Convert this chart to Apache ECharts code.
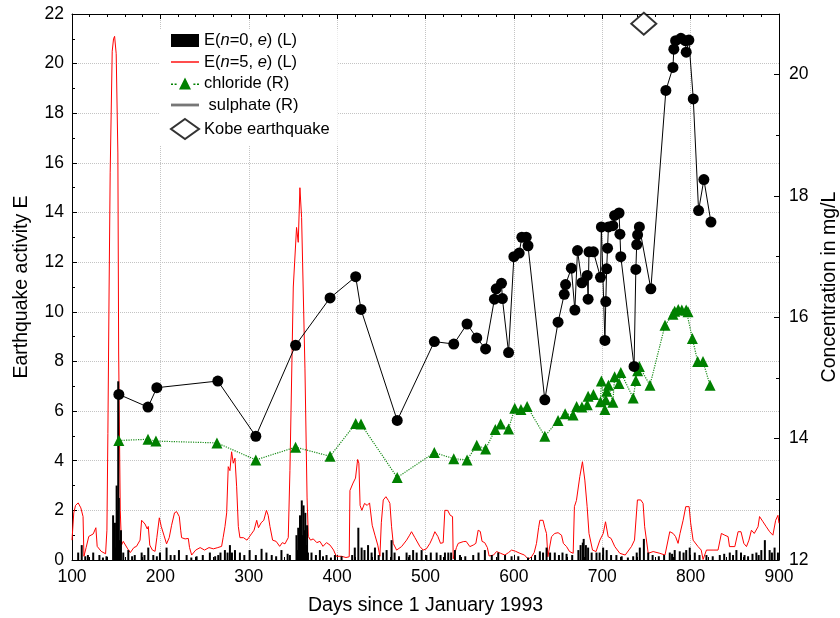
<!DOCTYPE html>
<html>
<head>
<meta charset="utf-8">
<script src="https://cdn.jsdelivr.net/npm/echarts@6/dist/echarts.min.js"></script>
<style>
  html, body { margin: 0; padding: 0; background: #fff; }
  #chart { width: 840px; height: 618px; }
</style>
</head>
<body>
<div id="chart"></div>
<script>
// sulphate (R), black circles
const sulphateDays = [153, 186, 196, 265, 308, 353, 392, 421, 427, 468, 510, 532, 547, 558, 568,
  578, 580, 586, 587, 594, 600, 606, 609, 614, 616, 635, 650, 657, 658.5, 665, 669, 672, 677,
  683, 684, 685, 690, 698, 699, 703, 704, 705, 706, 707, 712, 714, 719, 720, 721, 736, 738, 739,
  740, 742, 755, 772, 780, 781, 783, 789, 794, 795, 798, 803, 809, 815, 823];
const sulphateConc = [14.73, 14.52, 14.84, 14.95, 14.04, 15.54, 16.32, 16.67, 16.13, 14.30, 15.60,
  15.56, 15.89, 15.66, 15.48, 16.30, 16.47, 16.56, 16.31, 15.42, 17.00, 17.06, 17.32, 17.32, 17.18,
  14.64, 15.92, 16.38, 16.54, 16.81, 16.12, 17.10, 16.57, 16.69, 16.30, 17.08, 17.08, 16.66, 17.49,
  15.62, 16.26, 16.80, 17.14, 17.49, 17.51, 17.68, 17.72, 17.37, 17.00, 15.19, 16.79, 17.20, 17.36,
  17.49, 16.47, 19.74, 20.12, 20.42, 20.56, 20.60, 20.56, 20.37, 20.57, 19.60, 17.76, 18.27, 17.57];

// chloride (R), green triangles
const chlorideDays = [153, 186, 195, 264, 308, 353, 392, 421, 427, 468, 510, 532, 547, 558, 568,
  579, 585, 594, 601, 608, 615, 635, 650, 658, 667, 671, 677, 683, 684, 690, 698, 699, 703, 704,
  705, 707, 712, 714, 719, 721, 735, 738, 740, 742, 754, 771, 780, 782, 786, 790, 795, 797, 802,
  808, 814, 822];
const chlorideConc = [13.97, 13.99, 13.96, 13.93, 13.65, 13.86, 13.71, 14.25, 14.24, 13.36, 13.77,
  13.67, 13.65, 13.89, 13.83, 14.15, 14.24, 14.16, 14.50, 14.48, 14.53, 14.04, 14.30, 14.41, 14.39,
  14.53, 14.52, 14.56, 14.70, 14.73, 14.61, 14.95, 14.48, 14.64, 14.78, 14.88, 14.60, 15.02, 14.91,
  15.09, 14.67, 14.96, 15.12, 15.19, 14.88, 15.87, 16.05, 16.10, 16.13, 16.12, 16.12, 16.09, 15.65,
  15.27, 15.27, 14.88];

// E(n=5, e) (L), red line: [day, E]
const e5Points = [[100,0.8],[102,1.9],[104,2.2],[107,2.3],[110,2.1],[112.5,1.75],[113.5,0.15],
  [116,0.5],[119,0.95],[121,1.0],[124,1.05],[127,1.3],[128.5,0.55],[133,0.35],[138,0.25],
  [139.5,1.2],[140.6,5.1],[142,11],[143.2,15.6],[145.5,20.5],[147,21.0],[148.2,21.1],[150,20.4],
  [151.9,16.4],[152.8,8.3],[154.6,2.0],[156,0.6],[158,0.75],[160,0.8],[163,0.45],[166,0.3],
  [170,0.5],[173,0.55],[177,0.8],[178.8,1.6],[182.6,1.45],[185.2,1.25],[186.3,1.35],[188,0.6],
  [191,0.4],[194,0.35],[196,0.9],[198.8,1.7],[201,1.35],[204,1.0],[207,0.65],[210,0.9],
  [212.7,1.4],[216,1.9],[218.4,1.95],[221.4,1.75],[223,1.2],[224,0.9],[228,0.85],[231.6,0.87],
  [233,0.5],[235.4,0.2],[240,0.4],[245,0.5],[250,0.4],[255,0.5],[260,0.45],[265,0.5],
  [269.3,0.55],[271,0.9],[273.1,1.35],[275,1.9],[276.8,3.76],[278.7,3.6],[280.6,4.36],
  [282.5,3.9],[284.4,4.1],[286.3,2.95],[288.2,1.35],[290,0.9],[294,0.9],[298,0.8],[300,0.9],
  [303,1.05],[306,1.2],[309,1.6],[311,1.3],[314,1.5],[317,1.6],[320,2.0],[322,1.8],[324,1.35],
  [327,0.8],[331,0.75],[335,0.55],[338,0.7],[341,0.65],[344.7,0.9],[346.6,3.6],[350.4,11.0],
  [354.1,13.4],[356,12.8],[357.9,15.0],[359.8,13.8],[360.9,13.8],[363.6,7.7],[366,2.5],
  [367.4,0.95],[370,0.8],[373,0.85],[377,0.7],[380.5,0.75],[384,0.55],[388,0.7],[392,0.6],
  [396,0.4],[399,0.15],[405,0.15],[410,0.1],[413.7,0.13],[414.5,2.8],[418,3.1],[420.8,3.3],
  [423.2,4.05],[424.6,3.9],[426,2.2],[428,2.0],[431,2.28],[434,2.2],[436.7,2.3],[439.7,1.4],
  [442.8,1.0],[446,0.6],[448.4,0.15],[450,1.5],[452.2,2.42],[455.2,2.55],[458,2.4],[459.7,2.28],
  [461.6,1.34],[463.5,0.67],[467.3,0.4],[472.9,0.54],[478.6,0.8],[482,1.0],[484.2,1.14],
  [488,0.9],[493.7,0.54],[497.4,0.4],[501,0.45],[505,0.67],[508,0.9],[510.6,1.14],[514,0.95],
  [517,0.67],[520,0.7],[521.9,2.0],[525,2.0],[528,1.8],[530.6,1.75],[531.4,0.05],[535,0.5],
  [537,0.67],[542.7,0.74],[546,0.75],[550.2,0.54],[554,0.6],[557,0.67],[559.6,1.2],[562,1.15],
  [564,0.75],[567,0.7],[570,0.5],[572,0.16],[577,0.2],[580.4,0.34],[585,0.27],[589.8,0.2],
  [594,0.3],[597.4,0.4],[602,0.35],[606.8,0.27],[612,0.2],[616.2,0.03],[620,0.13],[623,0.3],
  [625.6,0.67],[628,1.3],[629.4,1.6],[633,1.6],[635,1.3],[636.9,1.07],[638.5,0.13],[642.6,0.94],
  [646.3,1.07],[650,1.1],[653.9,1.0],[656,0.67],[659.6,0.54],[663,0.34],[667.1,0.27],
  [668.5,2.15],[670.8,2.4],[674.6,3.36],[677.6,3.96],[680.3,3.22],[682.9,2.15],[685,1.07],
  [689,0.4],[693,0.34],[697.3,0.8],[701.1,1.07],[703.7,1.54],[706.7,0.94],[710,0.87],
  [714.2,0.54],[719.9,0.27],[726,0.2],[733,0.54],[736.5,0.8],[739.8,2.42],[743.6,2.42],
  [746.2,2.28],[748,1.34],[752,0.27],[757.6,0.34],[765.2,0.27],[771,0.2],[776.4,1.14],
  [780.2,1.07],[783,0.94],[785.8,0.67],[788,1.07],[791.5,1.6],[794.5,2.15],[798.3,2.15],
  [800,1.5],[802.8,0.8],[808.4,0.54],[812,0.4],[814.1,0.02],[817.9,0.4],[825.4,0.4],[831,0.4],
  [834.8,1.07],[838.6,1.0],[842.4,0.94],[844,0.54],[850,0.54],[853.7,1.14],[857,1.14],
  [860.2,0.67],[863.2,0.54],[866,0.8],[868.8,1.2],[872,1.07],[876.3,1.34],[878,1.75],
  [881.9,1.54],[885.6,1.34],[889.4,1.14],[893.1,1.0],[896.2,1.6],[898.8,1.8],[900,1.48]];

// E(n=0, e) (L), black spikes: [day, E]
const e0Spikes = [[107,0.3],[111,0.6],[115,0.15],[118,0.2],[124,0.3],[131,0.2],[135,0.1],
  [139,0.15],[146.5,1.8],[147.5,0.3],[148.6,1.5],[149.5,0.5],[150.5,3],[151.5,2],[152.3,7.2],
  [153,2.5],[154,0.8],[155.4,1.2],[158,0.3],[163.7,0.4],[168,0.15],[171,0.2],[178.8,0.3],
  [182,0.2],[186.3,0.5],[192,0.2],[196,0.15],[199.5,0.3],[207,0.5],[211.6,0.2],[216,0.2],
  [221,0.4],[229.7,0.2],[235,0.1],[241,0.15],[248,0.2],[256,0.3],[262,0.15],[265.5,0.2],
  [268,0.3],[273,0.4],[276,0.3],[278.7,0.6],[281,0.3],[284.4,0.4],[290,0.3],[295,0.2],[301,0.4],
  [308,0.2],[314.5,0.45],[320,0.3],[326,0.2],[331,0.15],[337,0.4],[344,0.25],[346.6,0.2],
  [354,1.0],[355,0.4],[356,1.3],[357,0.6],[358,1.8],[359,0.8],[360,2.4],[361,1.0],[362,2.2],
  [363,1.2],[364,1.9],[365,0.6],[366,1.4],[367,0.3],[371,0.3],[376,0.2],[380.5,0.4],[384,0.15],
  [388,0.2],[393,0.1],[397.5,0.2],[405,0.15],[417,0.2],[420,0.5],[424,1.3],[427.7,0.5],[431,0.4],
  [435,0.6],[439,0.3],[442.8,0.5],[447,0.2],[452,0.3],[456,0.4],[461.6,0.8],[465,0.3],[470,0.15],
  [478.6,0.3],[482,0.2],[486,0.4],[490,0.3],[495.6,0.4],[501,0.2],[506,0.3],[512.6,0.3],
  [517,0.2],[522,0.3],[525.8,0.3],[529,0.3],[533.3,0.4],[539,0.2],[545,0.15],[554,0.2],[560,0.3],
  [567.2,0.4],[575,0.2],[582.3,0.3],[590,0.2],[597.4,0.15],[605,0.15],[616,0.1],[624,0.2],
  [629.4,0.35],[633,0.3],[637,0.5],[641,0.3],[646.3,0.3],[651,0.2],[655,0.3],[659.6,0.25],
  [666,0.2],[673,0.4],[675.5,0.6],[678,0.7],[679,0.85],[681.5,0.6],[684,0.5],[688,0.3],
  [693.5,0.3],[697,0.3],[701,0.5],[705,0.4],[710,0.2],[716,0.2],[722,0.15],[729,0.1],[735,0.15],
  [739,0.3],[742.5,0.5],[747.1,0.85],[752,0.3],[757,0.2],[764,0.15],[770,0.2],[776.4,0.3],
  [779,0.25],[782,0.4],[787.7,0.35],[792,0.3],[795,0.4],[799,0.5],[804.7,0.3],[810,0.2],
  [817.9,0.2],[825,0.15],[833,0.2],[838,0.25],[844.3,0.3],[848,0.2],[851.8,0.4],[857,0.3],
  [861,0.2],[865,0.15],[870,0.25],[874.4,0.3],[877,0.2],[880,0.4],[884,0.8],[889.4,0.4],
  [892,0.3],[895,0.5],[898.8,0.3]];

// Kobe earthquake, 17 January 1995
const kobeDay = [747];
const kobeConc = [20.84];

const FONT = "'Liberation Sans', Arial, sans-serif";
const gridLine = { show: true, lineStyle: { color: '#c4c4c4', type: 'dotted', width: 1 } };
const axisLine = { show: true, onZero: false, lineStyle: { color: '#000', width: 1 } };
const tick = { show: true, inside: true, length: 5, lineStyle: { color: '#000' } };

const names = {
  e0: 'E(n=0, e) (L)',
  e5: 'E(n=5, e) (L)',
  cl: 'chloride (R)',
  so: 'sulphate (R)',
  kobe: 'Kobe earthquake'
};

// legend icon for chloride: dotted line with a triangle
const chlorideIcon = 'path://M0,10h2v1.4h-2z M3.6,10h2v1.4h-2z M22.4,10h2v1.4h-2z M26,10h2v1.4h-2z' +
  ' M8,16L14,4L20,16z';

function zip(xs, ys) {
  return xs.map((x, i) => [x, ys[i]]);
}

const chart = echarts.init(document.getElementById('chart'), null, { renderer: 'canvas' });

chart.setOption({
  animation: false,
  backgroundColor: '#fff',
  textStyle: { fontFamily: FONT },
  grid: { left: 72, right: 61, top: 14, bottom: 58, outerBoundsMode: 'none' },
  legend: {
    orient: 'vertical',
    left: 160,
    top: 30,
    itemWidth: 28,
    itemHeight: 20,
    itemGap: 4.5,
    padding: [2, 8, 6, 10],
    backgroundColor: '#fff',
    selectedMode: false,
    textStyle: {
      fontFamily: FONT, fontSize: 16.5, color: '#000',
      rich: {
        a: { fontFamily: FONT, fontSize: 16.5, color: '#000' },
        i: { fontFamily: FONT, fontSize: 16.5, color: '#000', fontStyle: 'italic' }
      }
    },
    formatter: function (name) {
      if (name === names.e0) return '{a|E(}{i|n}{a|=0, }{i|e}{a|) (L)}';
      if (name === names.e5) return '{a|E(}{i|n}{a|=5, }{i|e}{a|) (L)}';
      if (name === names.so) return '{a| sulphate (R)}';
      return '{a|' + name + '}';
    },
    data: [
      { name: names.e0, icon: 'path://M0,0h28v13h-28z', itemStyle: { color: '#000' } },
      { name: names.e5, icon: 'path://M0,0h28v1.4h-28z', itemStyle: { color: '#ff0000' } },
      { name: names.cl, icon: chlorideIcon, itemStyle: { color: '#008000' } },
      { name: names.so, icon: 'path://M0,0h20v2h-20z', itemStyle: { color: '#777' } },
      { name: names.kobe, icon: 'diamond',
        itemStyle: { color: '#fff', borderColor: '#000', borderWidth: 2 } }
    ]
  },
  xAxis: [{
    type: 'value', min: 100, max: 900, interval: 100, position: 'bottom',
    name: 'Days since 1 January 1993', nameLocation: 'middle', nameGap: 36,
    nameTextStyle: { fontSize: 19.5, color: '#000', fontFamily: FONT },
    axisLine: axisLine,
    axisTick: tick,
    minorTick: { show: true, splitNumber: 5, length: 3, lineStyle: { color: '#000' } },
    axisLabel: { fontSize: 17.5, color: '#000', margin: 8, fontFamily: FONT },
    splitLine: gridLine
  }, {
    type: 'value', min: 100, max: 900, interval: 100, position: 'top',
    axisLine: axisLine,
    axisTick: tick,
    minorTick: { show: true, splitNumber: 5, length: 3, lineStyle: { color: '#000' } },
    axisLabel: { show: false },
    splitLine: { show: false }
  }],
  yAxis: [{
    type: 'value', min: 0, max: 22, interval: 2, position: 'left',
    name: 'Earthquake activity E', nameLocation: 'middle', nameGap: 40,
    nameTextStyle: { fontSize: 19.5, color: '#000', fontFamily: FONT },
    axisLine: axisLine,
    axisTick: tick,
    minorTick: { show: true, splitNumber: 2, length: 3, lineStyle: { color: '#000' } },
    axisLabel: { fontSize: 17.5, color: '#000', margin: 8, fontFamily: FONT },
    splitLine: gridLine
  }, {
    type: 'value', min: 12, max: 21, interval: 2, position: 'right',
    name: 'Concentration in mg/L', nameLocation: 'middle', nameGap: 40,
    nameTextStyle: { fontSize: 19.5, color: '#000', fontFamily: FONT },
    axisLine: axisLine,
    axisTick: tick,
    minorTick: { show: true, splitNumber: 2, length: 3, lineStyle: { color: '#000' } },
    axisLabel: { fontSize: 17.5, color: '#000', margin: 10, fontFamily: FONT, showMaxLabel: false },
    splitLine: { show: false }
  }],
  series: [{
    name: names.e5, type: 'line', xAxisIndex: 0, yAxisIndex: 0,
    data: e5Points, symbol: 'none', z: 2,
    lineStyle: { color: '#ff0000', width: 1 },
    itemStyle: { color: '#ff0000' }
  }, {
    name: names.e0, type: 'bar', xAxisIndex: 0, yAxisIndex: 0,
    data: e0Spikes, barWidth: 2, z: 3,
    itemStyle: { color: '#000' }
  }, {
    name: names.cl, type: 'line', xAxisIndex: 0, yAxisIndex: 1,
    data: zip(chlorideDays, chlorideConc),
    symbol: 'triangle', symbolSize: 11, z: 4,
    lineStyle: { color: '#1a8c1a', width: 1.2, type: 'dotted' },
    itemStyle: { color: '#008000' }
  }, {
    name: names.so, type: 'line', xAxisIndex: 0, yAxisIndex: 1,
    data: zip(sulphateDays, sulphateConc),
    symbol: 'circle', symbolSize: 11, z: 5,
    lineStyle: { color: '#000', width: 1 },
    itemStyle: { color: '#000' }
  }, {
    name: names.kobe, type: 'scatter', xAxisIndex: 0, yAxisIndex: 1,
    data: zip(kobeDay, kobeConc),
    symbol: 'diamond', symbolSize: [25, 22], z: 6,
    itemStyle: { color: '#fff', borderColor: '#000', borderWidth: 2 }
  }]
});
</script>
</body>
</html>
